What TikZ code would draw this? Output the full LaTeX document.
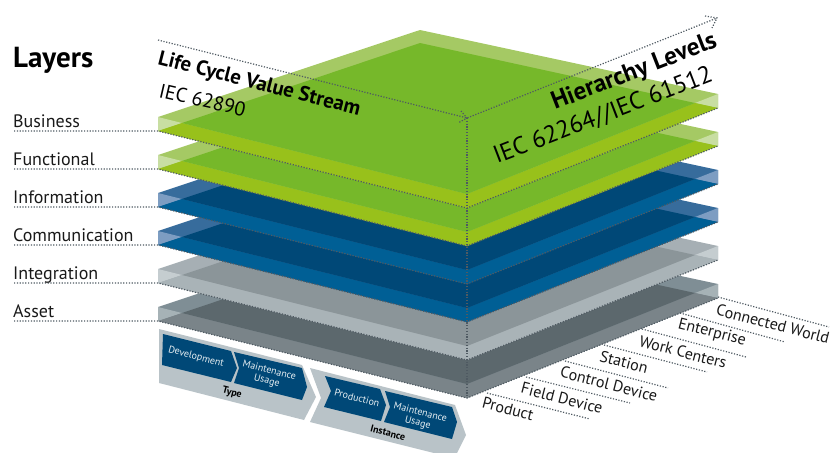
\documentclass[tikz,border=0pt]{standalone}
\usepackage{fontspec}
\setmainfont{PT Sans}

\definecolor{verdeFranja}{HTML}{A5C964}
\definecolor{verdeEsquina}{HTML}{C8DEA2}
\definecolor{verdeCara}{HTML}{76B82A}
\definecolor{verdeBase}{HTML}{98C11B}
\definecolor{azulFranja}{HTML}{376C9C}
\definecolor{azulEsquina}{HTML}{7D9DC2}
\definecolor{azulCara}{HTML}{004877}
\definecolor{azulBase}{HTML}{005F95}
\definecolor{grisFranja}{HTML}{A6AFB4}
\definecolor{grisEsquina}{HTML}{C5CDD0}
\definecolor{grisCara}{HTML}{8B9599}
\definecolor{grisBase}{HTML}{A9B3B7}
\definecolor{oscuroFranja}{HTML}{7F8E95}
\definecolor{oscuroEsquina}{HTML}{A6B2B6}
\definecolor{oscuroCara}{HTML}{5C686D}
\definecolor{oscuroBase}{HTML}{7A8489}
\definecolor{fondoFlecha}{HTML}{B9C3C8}
\definecolor{punto}{HTML}{4F5A62}

\begin{document}
\begin{tikzpicture}[
    x=1pt, y=-1pt,
    every node/.style={inner sep=0pt},
    punteado/.style={draw=punto, line width=1.2pt, dash pattern=on 1.2pt off 1.6pt},
    capa/.style={font=\fontsize{18}{20}\selectfont, anchor=base west, text=black!90},
    nivel/.style={font=\fontsize{16}{18}\selectfont, rotate=-14.5, text=black!90},
    titulo/.style={anchor=base west, text=black},
    fase/.style={font=\fontsize{10}{10.5}\selectfont, rotate=-14.5, text=white!90!azulCara, align=center},
    grupo/.style={font=\fontsize{10}{11}\selectfont\bfseries, rotate=-14.5, text=black}
]

\useasboundingbox (0,0) rectangle (831,453);

% Capas, de abajo hacia arriba
\foreach \capa/\dy/\tono in {Asset/190/oscuro, Integration/152/gris, Communication/114/azul, Information/76/azul, Functional/38/verde, Business/0/verde}{
\begin{scope}[shift={(0,\dy)}]
    \coordinate (izq-\capa) at (158,131);
    \coordinate (frente-\capa) at (467,208);
    \coordinate (der-\capa) at (718,108);
    \coordinate (ini-\capa) at (14,131);
    \fill[\tono Franja] (158,117) -- (420,30) -- (718,94) -- (718,108) -- (467,208) -- (158,131) -- cycle;
    \fill[\tono Esquina] (158,117) -- (158,131) -- (182,123) -- cycle;
    \fill[\tono Esquina] (718,94) -- (718,108) -- (695,103) -- cycle;
    \fill[\tono Base] (158,131) -- (182,123) -- (467,194) -- (695,103) -- (718,108) -- (467,208) -- cycle;
    \fill[\tono Cara] (182,123) -- (420,43) -- (695,103) -- (467,194) -- cycle;
    \draw[punteado] (ini-\capa) -- (izq-\capa) -- (frente-\capa) -- (der-\capa);
    \node[capa] (etq-\capa) at (13,127) {\capa};
\end{scope}
}

\node[font=\fontsize{29}{31}\selectfont\bfseries, anchor=base west] (layers) at (13,67) {Layers};

% Ejes punteados
\coordinate (inicio) at (158,40);
\coordinate (centro) at (467,118);
\coordinate (fin) at (717,18);
\coordinate (suelo) at (467,398);
\coordinate (ala1) at (461,111);
\coordinate (ala2) at (458,123);
\coordinate (ala3) at (705,16);
\coordinate (ala4) at (712,28);
\draw[punteado] (inicio) -- (centro) -- (fin);
\draw[punteado] (centro) -- (suelo);
\draw[punteado] (ala1) -- (centro) -- (ala2);
\draw[punteado] (ala3) -- (fin) -- (ala4);

% Titulos de los ejes
\node[titulo, rotate=-14.3, font=\fontsize{20.8}{23}\selectfont\bfseries] (vida) at (157,64) {Life Cycle Value Stream};
\node[titulo, rotate=-13, font=\fontsize{20}{23}\selectfont] (vidaNorma) at (158,97) {IEC 62890};
\node[titulo, rotate=21.3, font=\fontsize{25}{27}\selectfont\bfseries] (jerarquia) at (555,110) {Hierarchy Levels};
\node[titulo, rotate=21, font=\fontsize{24.5}{27}\selectfont] (jerarquiaNorma) at (497,164) {IEC 62264//IEC 61512};

% Niveles de jerarquia
\foreach \nombre/\xa/\ya/\xb/\yb/\xt/\yt in {Connected World/718/297/829/327/773/324, Enterprise/680/313/785/342/712/333, Work Centers/642/329/746/357/683/352, Station/604/345/707/372/624/362, Control Device/565/361/668/388/609/384, Field Device/526/377/630/403/562/398, Product/487/393/590/419/508/409}{
    \coordinate (a-\nombre) at (\xa,\ya);
    \coordinate (b-\nombre) at (\xb,\yb);
    \draw[punteado] (a-\nombre) -- (b-\nombre);
    \node[nivel] (n-\nombre) at (\xt,\yt) {\nombre};
}

% Flechas de la base
\fill[fondoFlecha] (159,329) -- (302,365) -- (316,397) -- (304,420) -- (159,383) -- cycle;
\fill[fondoFlecha] (310,368) -- (455,405) -- (466,435) -- (457,453) -- (434,453) -- (310,422) -- (321,398) -- cycle;
\fill[azulCara] (163,334) -- (231,351) -- (237,368) -- (231,382) -- (162,365) -- cycle;
\fill[azulCara] (234,352) -- (302,368) -- (307,387) -- (302,400) -- (234,383) -- (239,368) -- cycle;
\fill[azulCara] (325,376) -- (380,389) -- (386,405) -- (381,421) -- (324,407) -- (331,391) -- cycle;
\fill[azulCara] (385,391) -- (452,407) -- (457,422) -- (452,439) -- (384,422) -- (390,407) -- cycle;

\node[fase] (desarrollo) at (196,357) {Development};
\node[fase] (mant1) at (268,376) {Maintenance\\Usage};
\node[fase] (produccion) at (357,398) {Production};
\node[fase] (mant2) at (419,418) {Maintenance\\Usage};
\node[grupo] (tipo) at (232,393) {Type};
\node[grupo] (instancia) at (388,433) {Instance};

\end{tikzpicture}
\end{document}
